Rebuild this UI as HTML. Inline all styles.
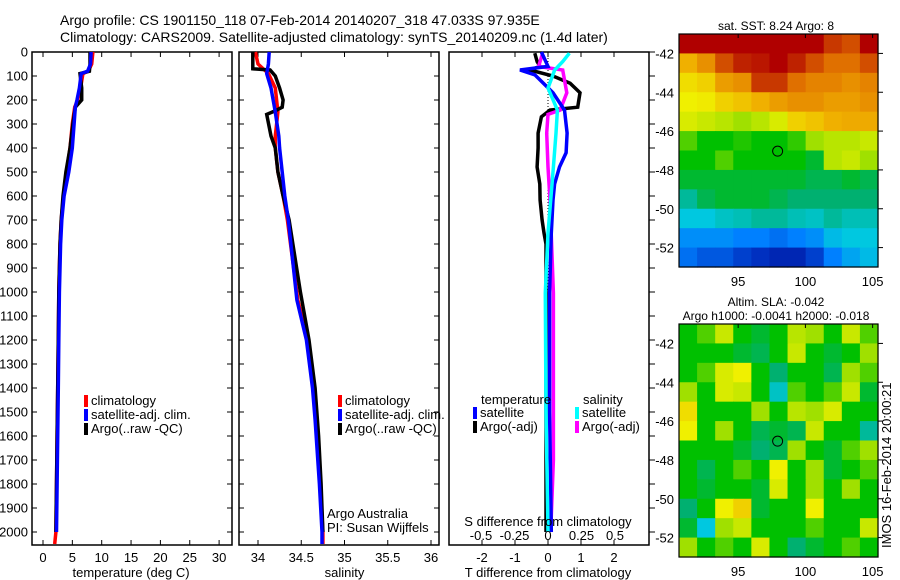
<!DOCTYPE html>
<html><head><meta charset="utf-8">
<style>
html,body{margin:0;padding:0;background:#fff;}
svg{display:block;font-family:"Liberation Sans",sans-serif;}
text{fill:#000;}
</style></head>
<body>
<svg id="fig" width="900" height="580" viewBox="0 0 900 580" xmlns="http://www.w3.org/2000/svg">
<text x="60" y="25" font-size="14">Argo profile: CS 1901150_118 07-Feb-2014 20140207_318 47.033S 97.935E</text>
<text x="60" y="42" font-size="14">Climatology: CARS2009. Satellite-adjusted climatology: synTS_20140209.nc (1.4d later)</text>
<g id="g1"></g>
<g id="g2"></g>
<g id="g3"></g>
<g id="m1"></g>
<g id="m2"></g>
<text transform="translate(891,548) rotate(-90)" font-size="13">IMOS 16-Feb-2014 20:00:21</text>
</svg>
<script>
// ---------- data ----------
const tDepth = [0,50,80,90,150,200,230,300,400,500,600,700,800,1000,1200,1400,1600,1800,2000];
const tArgo  = [8.0,8.0,7.9,6.3,6.6,6.6,5.5,5.1,4.6,3.9,3.4,3.1,2.9,2.7,2.6,2.5,2.4,2.3,2.2];
const tSat   = [8.2,8.1,7.6,6.5,6.2,5.8,5.5,5.3,5.0,4.4,3.6,3.2,3.0,2.8,2.7,2.6,2.5,2.4,2.3];
const tClimDepth = [0,50,80,90,150,200,230,300,400,500,600,700,800,1000,1200,1400,1600,1800,2000,2050];
const tClim  = [8.5,8.3,7.7,6.8,6.4,5.9,5.4,5.0,4.6,4.0,3.5,3.1,2.9,2.7,2.6,2.5,2.4,2.3,2.2,2.0];

const sArgoDepth = [0,70,75,100,150,200,230,245,260,350,400,500,600,700,1000,1200,1400,1600,1800,2000];
const sArgo = [33.94,33.94,34.14,34.2,34.25,34.29,34.28,34.2,34.1,34.15,34.2,34.23,34.29,34.36,34.49,34.59,34.66,34.7,34.73,34.75];
const sDepth = [0,50,90,150,250,350,400,500,600,700,1033,1200,1400,1533,1800,2000,2050];
const sClim = [33.97,34.0,34.12,34.2,34.23,34.2,34.2,34.23,34.29,34.34,34.46,34.57,34.64,34.67,34.72,34.75,34.75];
const sSat  = [34.13,34.12,34.1,34.15,34.2,34.24,34.25,34.28,34.31,34.35,34.45,34.56,34.63,34.66,34.71,34.74,34.74];

const dtSatDepth = [0,60,75,95,170,242,338,420,479,550,617,754,1000,1500,2000];
const dtSat = [-0.2,0.0,-0.85,-0.4,0.15,0.5,0.58,0.55,0.35,0.2,0.15,0.1,0.05,0.05,0.1];
const dtArgoDepth = [5,40,60,75,100,130,170,230,242,270,338,400,479,550,617,700,754,800,1000,1500,2000];
const dtArgo = [-0.4,-0.33,-0.24,-0.55,0.15,0.67,0.97,0.9,0.06,-0.2,-0.3,-0.3,-0.33,-0.25,-0.24,-0.18,-0.12,-0.06,-0.06,-0.06,-0.06];
const dsArgoDepth = [5,60,75,170,242,260,338,479,617,1004,1400,1700,2000];
const dsArgo = [-0.04,-0.07,0.11,0.14,0.09,0.0,-0.01,0.0,0.015,0.04,0.04,0.04,0.02];
const dsSatDepth = [5,40,75,150,242,338,479,617,754,1004,1500,2000];
const dsSat = [0.16,0.11,0.05,0.0,0.07,0.06,0.04,0.02,0.0,-0.02,-0.015,0.0];

const depthTicks = [0,100,200,300,400,500,600,700,800,900,1000,1100,1200,1300,1400,1500,1600,1700,1800,1900,2000];
const tTicks = [0,5,10,15,20,25,30];
const sTicks = [34,34.5,35,35.5,36];
const sTickLabels = ["34","34.5","35","35.5","36"];
const dtTicks = [-2,-1,0,1,2];
const dsTicks = [-0.5,-0.25,0,0.25,0.5];
const dsTickLabels = ["-0.5","-0.25","0","0.25","0.5"];
const latTicks = [-42,-44,-46,-48,-50,-52];
const lonTicks = [95,100,105];

const sstGrid = [
[.95,.95,.95,.95,.95,.95,.95,.95,.9,.88,.95],
[.75,.8,.88,.92,.93,.95,.92,.88,.85,.85,.88],
[.68,.7,.78,.8,.9,.9,.85,.82,.82,.8,.82],
[.65,.66,.7,.72,.75,.78,.8,.8,.78,.78,.8],
[.62,.6,.58,.55,.58,.62,.7,.72,.75,.76,.76],
[.5,.45,.45,.47,.45,.45,.48,.55,.58,.58,.6],
[.45,.45,.5,.45,.45,.45,.45,.42,.58,.6,.55],
[.42,.42,.42,.42,.42,.42,.42,.4,.4,.42,.4],
[.35,.4,.42,.42,.42,.4,.38,.38,.38,.38,.38],
[.3,.3,.32,.33,.35,.35,.33,.32,.35,.33,.33],
[.22,.22,.22,.2,.2,.18,.2,.22,.28,.3,.3],
[.18,.15,.15,.12,.1,.08,.08,.12,.2,.25,.28]];
const slaGrid = [
[.45,.5,.6,.45,.42,.45,.58,.55,.45,.6,.5],
[.45,.45,.45,.42,.4,.45,.6,.45,.42,.45,.55],
[.45,.5,.62,.65,.45,.38,.45,.45,.4,.55,.5],
[.55,.45,.62,.6,.45,.32,.5,.45,.5,.6,.42],
[.68,.45,.45,.45,.55,.45,.58,.55,.62,.45,.45],
[.65,.45,.55,.45,.4,.42,.4,.6,.45,.45,.35],
[.45,.45,.45,.42,.38,.4,.55,.45,.42,.5,.55],
[.45,.4,.45,.5,.45,.65,.45,.55,.42,.45,.5],
[.45,.42,.45,.45,.42,.62,.45,.55,.45,.55,.45],
[.38,.45,.65,.7,.42,.45,.45,.65,.45,.45,.45],
[.42,.3,.55,.6,.45,.45,.45,.5,.45,.45,.6],
[.55,.45,.5,.45,.62,.45,.38,.42,.45,.5,.45]];
const argoLon = [97.935];
const argoLat = [-47.033];

// ---------- helpers ----------
const NS="http://www.w3.org/2000/svg";
function mk(parent,tag,attrs,txt){const e=document.createElementNS(NS,tag);for(const k in attrs)e.setAttribute(k,attrs[k]);if(txt!==undefined)e.textContent=txt;parent.appendChild(e);return e;}
const PT=52, PB=545;
const yD = d => 52 + d*0.24;
const xT = t => 43 + t*5.87;
const xS = s => 258 + (s-34)*86.5;
const xDT = v => 548 + v*33;
const xDS = v => 548 + v*134;

function frame(g,x0,x1){
  const r=mk(g,'rect',{x:x0,y:PT,width:x1-x0,height:PB-PT,fill:'none',stroke:'#000','stroke-width':1.5});
  
}
function line(g,xs,ds,xf,color,name,w){
  const pts=xs.map((v,i)=>xf(v).toFixed(1)+','+yD(ds[i]).toFixed(1)).join(' ');
  const p=mk(g,'polyline',{points:pts,fill:'none',stroke:color,'stroke-width':w||3.5,'stroke-linejoin':'miter'});
  
}
function depthAxis(g,x0,x1,labels,outRight){
  depthTicks.forEach(d=>{
    const y=yD(d);
    if(!outRight){mk(g,'line',{x1:x0,y1:y,x2:x0+5,y2:y,stroke:'#000'});mk(g,'line',{x1:x1,y1:y,x2:x1-5,y2:y,stroke:'#000'});}
    else mk(g,'line',{x1:x1,y1:y,x2:x1+6,y2:y,stroke:'#000'});
    if(labels){const t=mk(g,'text',{x:x0-4,y:y+4.5,'font-size':13,'text-anchor':'end'},String(d));
      }
  });
}
function xAxis(g,ticks,labs,xf,title,ly){
  ticks.forEach((v,i)=>{const x=xf(v);
    mk(g,'line',{x1:x,y1:PT,x2:x,y2:PT+5,stroke:'#000'});mk(g,'line',{x1:x,y1:PB,x2:x,y2:PB-5,stroke:'#000'});
    const t=mk(g,'text',{x:x,y:ly||562,'font-size':13,'text-anchor':'middle'},labs[i]);
    });
  const tt=mk(g,'text',{x:(xf(ticks[0])+xf(ticks[ticks.length-1]))/2,y:577,'font-size':13,'text-anchor':'middle'},title);
  
}
function legend(g,x,y,items){
  items.forEach((it,i)=>{
    const r=mk(g,'rect',{x:x,y:y+i*14-10,width:4,height:12,fill:it[0]});
    
    const t=mk(g,'text',{x:x+7,y:y+i*14,'font-size':13},it[1]);
    
  });
}

// panel 1
const g1=document.getElementById('g1');
frame(g1,32,232);depthAxis(g1,32,232,true,false);
xAxis(g1,tTicks,tTicks.map(String),xT,'temperature (deg C)');
line(g1,tClim,tClimDepth,xT,'#f00','temp-climatology-line');
line(g1,tArgo,tDepth,xT,'#000','temp-argo-line');
line(g1,tSat,tDepth,xT,'#00f','temp-satellite-line');
legend(g1,84,405,[['#f00','climatology'],['#00f','satellite-adj. clim.'],['#000','Argo(..raw -QC)']]);

// panel 2
const g2=document.getElementById('g2');
frame(g2,239,439);depthAxis(g2,239,439,false,false);
xAxis(g2,sTicks,sTickLabels,xS,'salinity');
line(g2,sClim,sDepth,xS,'#f00','sal-climatology-line');
line(g2,sArgo,sArgoDepth,xS,'#000','sal-argo-line');
line(g2,sSat,sDepth,xS,'#00f','sal-satellite-line');
legend(g2,338,405,[['#f00','climatology'],['#00f','satellite-adj. clim.'],['#000','Argo(..raw -QC)']]);
let t=mk(g2,'text',{x:327,y:518,'font-size':13},'Argo Australia');
t=mk(g2,'text',{x:327,y:532,'font-size':13},'PI: Susan Wijffels');

// panel 3
const g3=document.getElementById('g3');
frame(g3,449,649);depthAxis(g3,449,649,false,true);
xAxis(g3,dtTicks,dtTicks.map(String),xDT,'T difference from climatology');
mk(g3,'line',{x1:548,y1:PT,x2:548,y2:yD(1000),stroke:'#000','stroke-dasharray':'1,2'});
line(g3,dtArgo,dtArgoDepth,xDT,'#000','tdiff-argo-line');
line(g3,dsArgo,dsArgoDepth,xDS,'#f0f','sdiff-argo-line');
line(g3,dtSat,dtSatDepth,xDT,'#00f','tdiff-satellite-line');
line(g3,dsSat,dsSatDepth,xDS,'#0ff','sdiff-satellite-line');
t=mk(g3,'text',{x:481,y:404,'font-size':13},'temperature');
t=mk(g3,'text',{x:583,y:404,'font-size':13},'salinity');
legend(g3,473,417,[['#00f','satellite'],['#000','Argo(-adj)']]);
legend(g3,575,417,[['#0ff','satellite'],['#f0f','Argo(-adj)']]);
t=mk(g3,'text',{x:548,y:526,'font-size':13,'text-anchor':'middle'},'S difference from climatology');
dsTicks.forEach((v,i)=>{const tt=mk(g3,'text',{x:xDS(v),y:540,'font-size':13,'text-anchor':'middle'},dsTickLabels[i]);
  });

// maps
const stops=[[0,[0,0,128]],[.1,[0,48,192]],[.2,[0,128,255]],[.3,[0,200,224]],[.38,[0,176,112]],[.45,[0,192,0]],[.55,[160,224,0]],[.65,[240,240,0]],[.75,[240,176,0]],[.85,[224,112,0]],[.95,[176,0,0]],[1,[160,0,0]]];
function cmap(v){for(let i=1;i<stops.length;i++){if(v<=stops[i][0]){const a=stops[i-1],b=stops[i],f=(v-a[0])/(b[0]-a[0]);
  return 'rgb('+a[1].map((c,k)=>Math.round(c+(b[1][k]-c)*f)).join(',')+')';}}return 'rgb(160,0,0)';}
function map(id,grid,top,titles){
  const g=document.getElementById(id);
  const L=679,R=878,B=top+233;
  const lonX=lo=>L+(lo-90.6)*(R-L)/14.8, latY=la=>top+(-41-la)*(B-top)/12;
  const nr=grid.length,nc=grid[0].length,cw=(R-L)/nc,ch=(B-top)/nr;
  grid.forEach((row,r)=>row.forEach((v,c)=>{
    const e=mk(g,'rect',{x:(L+c*cw).toFixed(2),y:(top+r*ch).toFixed(2),width:(cw+0.6).toFixed(2),height:(ch+0.6).toFixed(2),fill:cmap(v)});
    }));
  const f=mk(g,'rect',{x:L,y:top,width:R-L,height:B-top,fill:'none',stroke:'#000','stroke-width':1.2});
  
  latTicks.forEach(la=>{const y=latY(la);mk(g,'line',{x1:R,y1:y,x2:R+5,y2:y,stroke:'#000'});
    const tt=mk(g,'text',{x:L-5,y:y+5,'font-size':13,'text-anchor':'end'},String(la));});
  lonTicks.forEach(lo=>{const x=lonX(lo);mk(g,'line',{x1:x,y1:top,x2:x,y2:top+4,stroke:'#000'});
    const tt=mk(g,'text',{x:x,y:B+19,'font-size':13,'text-anchor':'middle'},String(lo));});
  argoLon.forEach((lo,i)=>{const c=mk(g,'circle',{cx:lonX(lo),cy:latY(argoLat[i]),r:5,fill:'none',stroke:'#000','stroke-width':1});
    });
  titles.forEach((s,i)=>{const tt=mk(g,'text',{x:776,y:top-titles.length*14+i*14+10,'font-size':12,'text-anchor':'middle'},s);
    });
}
map('m1',sstGrid,34,['sat. SST: 8.24 Argo: 8']);
map('m2',slaGrid,324,['Altim. SLA: -0.042','Argo h1000: -0.0041 h2000: -0.018']);
</script>
</body></html>
